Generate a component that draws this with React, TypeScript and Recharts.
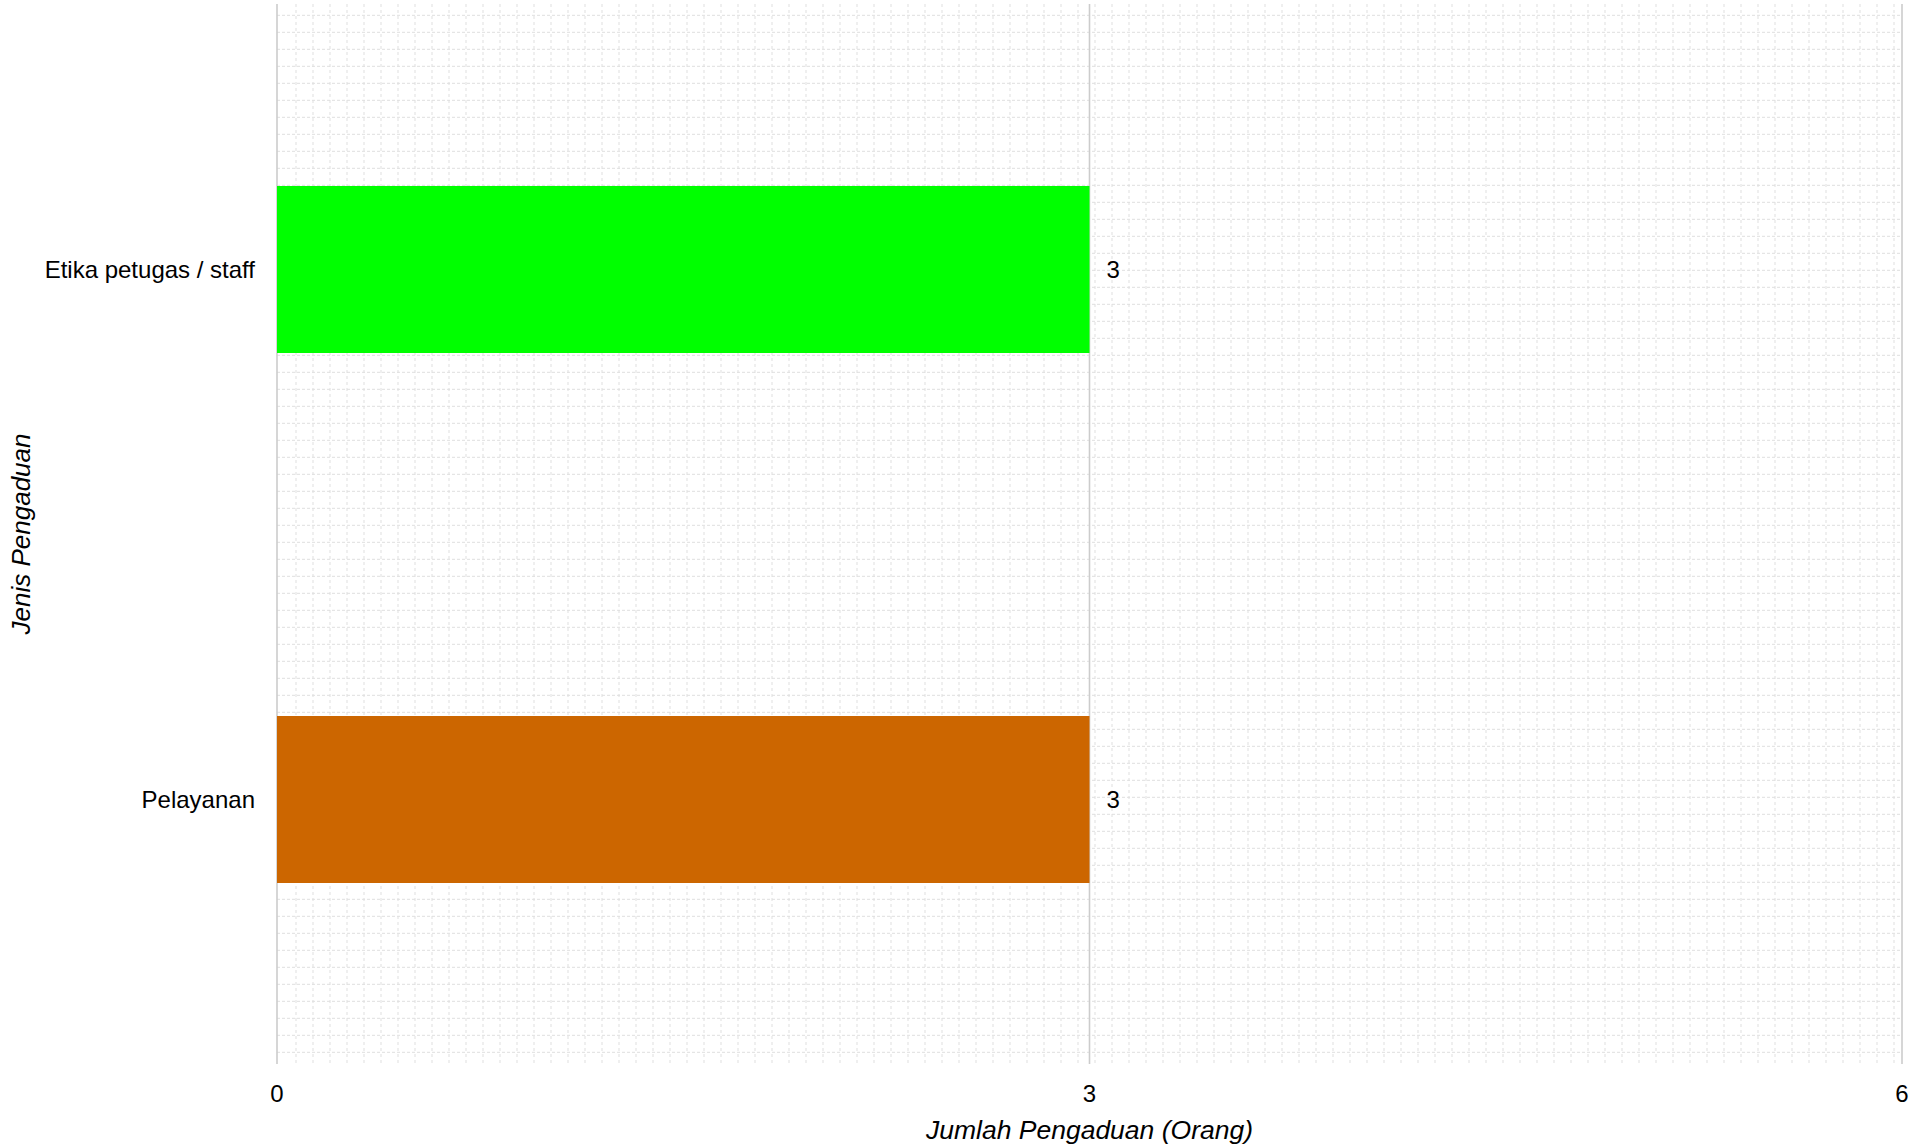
import React from "react";
import {
  BarChart,
  Bar,
  XAxis,
  YAxis,
  CartesianGrid,
  Cell,
  LabelList,
} from "recharts";

const categories = ["Etika petugas / staff", "Pelayanan"];
const values = [3, 3];
const barColors = ["#00FF00", "#CC6600"];
const xTicks = [0, 3, 6];
const xDomain: [number, number] = [0, 6];
const xTitle = "Jumlah Pengaduan (Orang)";
const yTitle = "Jenis Pengaduan";

const data = categories.map((name, i) => ({ name, value: values[i] }));

const FONT = "'Liberation Sans', Arial, sans-serif";
const W = 1910;
const H = 1147;
const MINOR = 17;

const minorVertical = (props: any) => {
  const o = props.offset || {};
  const left = o.left ?? 277;
  const width = o.width ?? 1625;
  const out: number[] = [];
  for (let x = left + 19; x < left + width - 1; x += MINOR) out.push(x);
  return out;
};

const minorHorizontal = (props: any) => {
  const o = props.offset || {};
  const top = o.top ?? 4;
  const height = o.height ?? 1060;
  const out: number[] = [];
  for (let y = top + 11.3; y < top + height - 1; y += MINOR) out.push(y);
  return out;
};

const YTitle = (props: any) => {
  const vb = props.viewBox || {};
  const cx = (vb.x ?? 0) + 21;
  const cy = (vb.y ?? 0) + (vb.height ?? 0) / 2;
  return (
    <text
      x={cx}
      y={cy}
      transform={`rotate(-90, ${cx}, ${cy})`}
      textAnchor="middle"
      dominantBaseline="central"
      fontFamily={FONT}
      fontStyle="italic"
      fontSize={26}
      fill="#000"
    >
      {yTitle}
    </text>
  );
};

const XTitle = (props: any) => {
  const vb = props.viewBox || {};
  const cx = (vb.x ?? 0) + (vb.width ?? 0) / 2;
  const y = (vb.y ?? 0) + 75;
  return (
    <text
      x={cx}
      y={y}
      textAnchor="middle"
      fontFamily={FONT}
      fontStyle="italic"
      fontSize={26.5}
      fill="#000"
    >
      {xTitle}
    </text>
  );
};

export default function App() {
  return (
    <div style={{ position: "absolute", left: 0, top: 0, width: W, height: H, background: "#fff" }}>
      <BarChart
        width={W}
        height={H}
        data={data}
        layout="vertical"
        margin={{ top: 4, right: 8, bottom: 0, left: 0 }}
      >
        <CartesianGrid
          vertical={false}
          horizontal={true}
          horizontalCoordinatesGenerator={minorHorizontal}
          stroke="#dfdfdf"
          strokeDasharray="3 2"
        />
        <CartesianGrid
          vertical={true}
          horizontal={false}
          verticalCoordinatesGenerator={minorVertical}
          stroke="#dfdfdf"
          strokeDasharray="3 3"
        />
        <CartesianGrid
          vertical={true}
          horizontal={false}
          stroke="#cccccc"
          strokeWidth={1.6}
        />
        <XAxis
          type="number"
          domain={xDomain}
          ticks={xTicks}
          axisLine={false}
          tickLine={false}
          tickSize={0}
          tickMargin={21}
          height={83}
          interval={0}
          tick={{ fontFamily: FONT, fontSize: 24, fill: "#000" }}
          label={{ content: XTitle }}
        />
        <YAxis
          type="category"
          dataKey="name"
          width={277}
          axisLine={false}
          tickLine={false}
          tickSize={0}
          tickMargin={22}
          interval={0}
          tick={{ fontFamily: FONT, fontSize: 24, fill: "#000" }}
          label={{ content: YTitle }}
        />
        <Bar dataKey="value" barSize={167} isAnimationActive={false}>
          {data.map((d, i) => (
            <Cell key={d.name} fill={barColors[i]} />
          ))}
          <LabelList
            dataKey="value"
            position="right"
            offset={17}
            style={{ fontFamily: FONT, fontSize: 24, fill: "#000" }}
          />
        </Bar>
      </BarChart>
    </div>
  );
}
